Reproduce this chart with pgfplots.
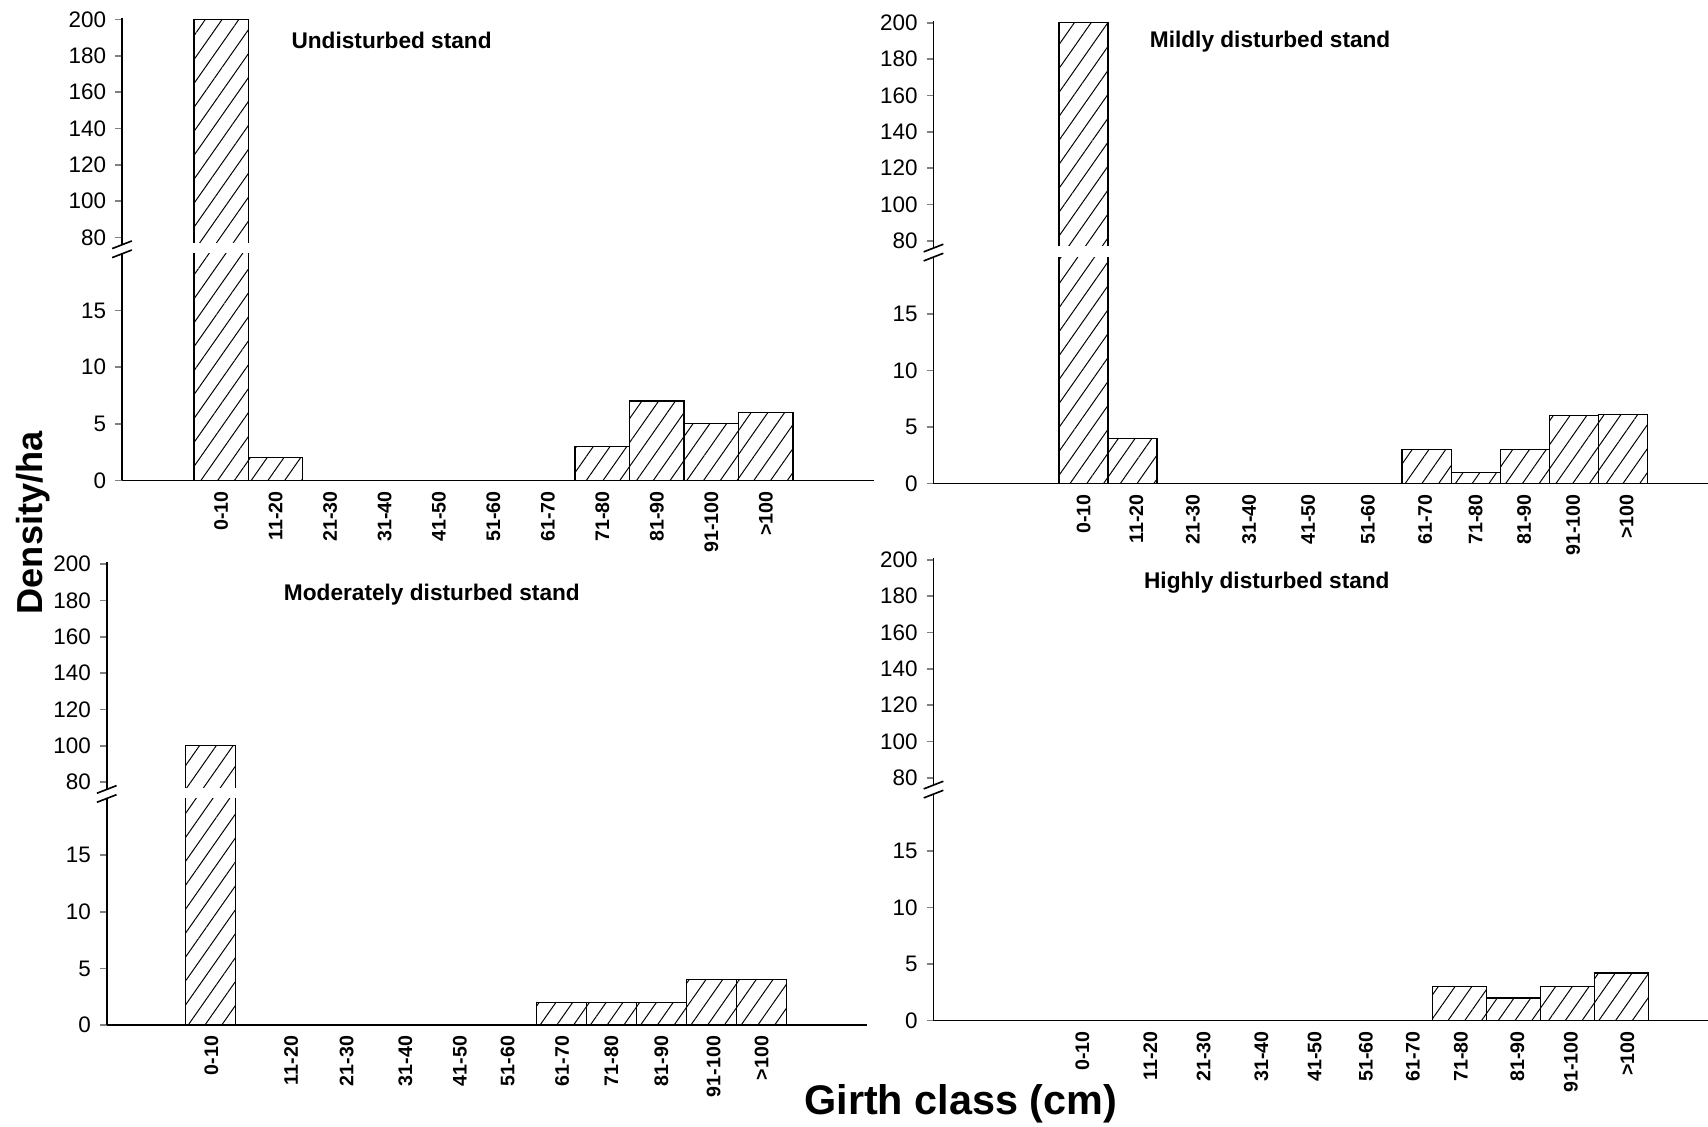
\documentclass[border=0pt]{standalone}
\usepackage{fontspec}
\setmainfont{Liberation Sans}
\usepackage{pgfplots}
\pgfplotsset{compat=1.18}
\usepackage{pgfplotstable}
\usetikzlibrary{patterns.meta}

% Undisturbed
\pgfplotstableread{
x y
0 200
1 2
2 0
3 0
4 0
5 0
6 0
7 3
8 7
9 5
10 6
}\dataA
% Mildly disturbed
\pgfplotstableread{
x y
0 200
1 4
7 3
8 1
9 3
10 6
11 6.1
}\dataB
% Moderately disturbed
\pgfplotstableread{
x y
0 100
7 2
8 2
9 2
10 4
11 4
}\dataC
% Highly disturbed
\pgfplotstableread{
x y
7 3
8 2
9 3
10 4.2
}\dataD

\pgfplotsset{
  common/.style={
    scale only axis,
    axis line style={-, line width=0.75pt},
    x axis line style={-}, y axis line style={-},
    bar width=1,
    enlargelimits=false,
    ytick style={line width=0.75pt},
    ytick align=outside,
    major tick length=3pt,
    ytick pos=left,
    yticklabel style={font=\fontsize{10.3}{12}\selectfont, xshift=-0.8pt},
    /pgf/number format/assume math mode=true,
  },
  upper/.style={
    axis x line=none, axis y line=left, common,
    ymin=76, ymax=201, height=104.2pt,
    ytick={80,100,...,200},
  },
  lower/.style={
    axis x line=bottom, axis y line=left, common,
    ymin=0, ymax=20, height=104pt,
    ytick={0,5,10,15},
    xtick style={draw=none},
    xticklabel style={rotate=90, anchor=east, font=\bfseries\fontsize{9}{10}\selectfont},
  },
  barsty/.style={ybar, draw=black, line width=0.6pt,
    pattern={Lines[angle=55,distance=6.3pt,line width=0.45pt]}},
  topbar/.style={barsty, restrict y to domain=76:1000},
}
% erase the bottom edge of the upper bar piece (the break)
\newcommand\erasebottom{\draw[white, line width=1.6pt] (rel axis cs:0.01,0) -- (rel axis cs:1,0);}

\begin{document}
\begin{tikzpicture}
\path[use as bounding box] (0,0) rectangle (784pt,-517pt);

% ---------- Panel 1 ----------
\begin{axis}[upper, name=u1, at={(56pt,-112.35pt)}, anchor=south west,
  width=345pt, xmin=-1.82, xmax=11.98]
\addplot[topbar] table[x=x,y=y]{\dataA};
\erasebottom
\end{axis}
\begin{axis}[lower, name=l1, at={(56pt,-220.5pt)}, anchor=south west,
  width=345pt, xmin=-1.82, xmax=11.98,
  xtick={0,1,2,3,4,5,6,7,8,9,10},
  xticklabels={0-10,11-20,21-30,31-40,41-50,51-60,61-70,71-80,81-90,91-100,>100}]
\addplot[barsty] table[x=x,y=y]{\dataA};
\end{axis}

% ---------- Panel 2 ----------
\begin{axis}[upper, name=u2, at={(428.5pt,-113.85pt)}, anchor=south west,
  width=361.35pt, xmin=-3.06, xmax=13]
\addplot[topbar] table[x=x,y=y]{\dataB};
\erasebottom
\end{axis}
\begin{axis}[lower, name=l2, at={(428.5pt,-222pt)}, anchor=south west,
  width=361.35pt, xmin=-3.06, xmax=13,
  xtick={0,1.08,2.23,3.38,4.58,5.8,6.97,8,8.99,9.99,11.08},
  xticklabels={0-10,11-20,21-30,31-40,41-50,51-60,61-70,71-80,81-90,91-100,>100}]
\addplot[barsty] table[x=x,y=y]{\dataB};
\end{axis}

% ---------- Panel 3 ----------
\begin{axis}[upper, name=u3, at={(49pt,-362.35pt)}, anchor=south west,
  width=348.9pt, xmin=-2.07, xmax=13.1]
\addplot[topbar] table[x=x,y=y]{\dataC};
\erasebottom
\end{axis}
\begin{axis}[lower, name=l3, at={(49pt,-470.5pt)}, anchor=south west,
  width=348.9pt, xmin=-2.07, xmax=13.1,
  xtick={0.02,1.61,2.72,3.89,4.98,5.93,7.02,8,9,10.04,11},
  xticklabels={0-10,11-20,21-30,31-40,41-50,51-60,61-70,71-80,81-90,91-100,>100}]
\addplot[barsty] table[x=x,y=y]{\dataC};
\end{axis}

% ---------- Panel 4 ----------
\begin{axis}[upper, name=u4, at={(428.5pt,-360.35pt)}, anchor=south west,
  width=365.3pt, xmin=-2.76, xmax=12]
\end{axis}
\begin{axis}[lower, name=l4, at={(428.5pt,-468.5pt)}, anchor=south west,
  width=365.3pt, xmin=-2.76, xmax=12,
  xtick={0,1.26,2.25,3.32,4.31,5.26,6.13,7.02,8.07,9.06,10.11},
  xticklabels={0-10,11-20,21-30,31-40,41-50,51-60,61-70,71-80,81-90,91-100,>100}]
\addplot[barsty] table[x=x,y=y]{\dataD};
\end{axis}

% break marks
\foreach \n in {1,2,3,4}{
  \draw[line width=0.75pt] ([shift={(-4.5pt,-1.75pt)}]u\n.south west) -- ++(9pt,3.5pt);
  \draw[line width=0.75pt] ([shift={(-4.5pt,-1.75pt)}]l\n.north west) -- ++(9pt,3.5pt);
}

% panel titles
\begin{scope}[every node/.style={font=\bfseries\fontsize{10.4}{12}\selectfont, inner sep=0pt}]
\node at (179.75pt,-18.5pt) {Undisturbed stand};
\node at (583pt,-19pt) {Mildly disturbed stand};
\node at (198.25pt,-273pt) {Moderately disturbed stand};
\node at (581.5pt,-267.5pt) {Highly disturbed stand};
\end{scope}

% axis titles
\node[rotate=90, font=\bfseries\fontsize{16.6}{20}\selectfont, inner sep=0pt] at (15pt,-240pt) {Density/ha};
\node[font=\bfseries\fontsize{19}{22}\selectfont, inner sep=0pt] at (441pt,-506.5pt) {Girth class (cm)};
\end{tikzpicture}
\end{document}
